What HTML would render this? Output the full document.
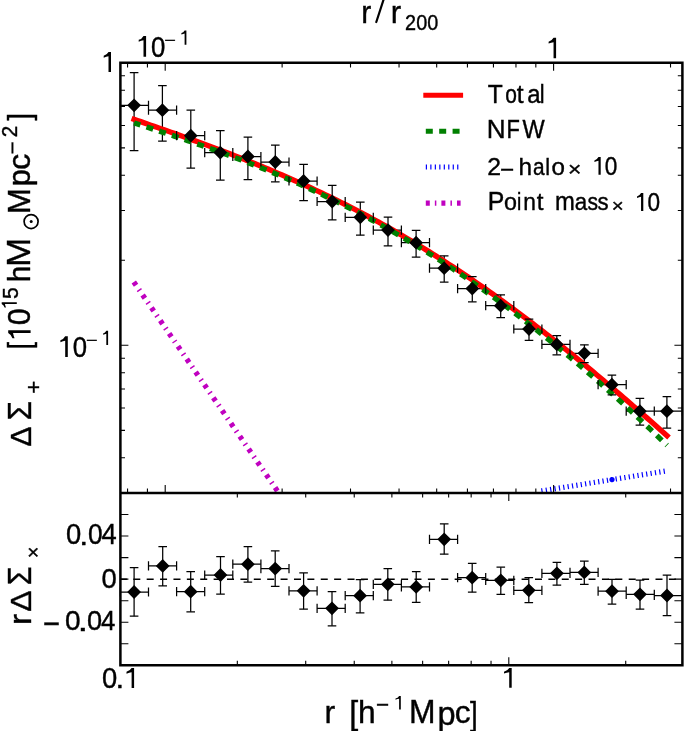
<!DOCTYPE html>
<html><head><meta charset="utf-8"><style>html,body{margin:0;padding:0;background:#fff;}svg{display:block;}</style></head>
<body>
<svg width="685" height="731" viewBox="0 0 685 731" font-family="'Liberation Sans', sans-serif">
<rect width="100%" height="100%" fill="#fff"/>
<g opacity="0.999">
<defs><clipPath id="cp"><rect x="120.4" y="62.8" width="562.0" height="430.2"/></clipPath></defs>
<line x1="119.9" y1="579.15" x2="682.4" y2="579.15" stroke="#000" stroke-width="1.5" stroke-dasharray="7 6.39"/>
<path d="M134.10,72.50V150.50M120.40,105.30H148.50M162.40,85.60V141.00M148.50,110.20H176.60M190.80,110.20V168.10M176.60,135.70H204.70M220.30,130.70V180.10M204.70,152.60H232.80M247.90,137.00V179.70M232.80,156.50H260.90M275.30,145.00V181.80M260.90,162.00H289.00M303.60,164.30V200.70M289.00,181.00H317.10M332.20,185.40V219.90M317.10,201.50H345.20M360.30,202.10V235.20M345.20,217.30H373.30M388.00,217.00V245.90M373.30,230.10H401.40M416.10,230.40V257.10M401.40,242.70H429.50M444.20,255.80V282.00M429.50,268.20H457.60M472.30,276.60V301.80M457.60,288.60H485.70M500.70,294.80V317.60M485.70,305.70H513.80M529.00,319.00V340.40M513.80,329.00H541.90M556.80,335.60V354.80M541.90,344.40H570.00M584.40,344.80V362.70M570.00,353.30H598.10M611.90,375.00V394.90M598.10,384.70H626.20M639.90,398.30V425.00M626.20,411.20H654.30M666.90,396.70V428.10M654.30,411.20H682.40" stroke="#000" stroke-width="1.25" fill="none"/>
<path d="M134.10,567.70V616.20M120.40,592.00H148.50M162.70,546.50V585.90M148.50,565.90H176.60M190.70,571.50V611.80M176.60,591.70H204.70M220.50,556.60V594.00M204.70,575.00H232.80M247.90,546.50V582.00M232.80,564.20H260.90M275.20,550.90V586.40M260.90,568.60H289.00M303.60,572.90V609.20M289.00,590.80H317.10M332.00,591.70V625.80M317.10,608.30H345.20M360.10,579.60V612.90M345.20,595.70H373.30M387.80,568.50V600.20M373.30,584.30H401.40M416.20,571.70V602.30M401.40,586.90H429.50M444.20,523.90V554.20M429.50,539.30H457.60M472.20,563.30V592.20M457.60,577.70H485.70M500.80,567.20V594.30M485.70,580.30H513.80M528.80,577.70V602.70M513.80,590.30H541.90M556.90,562.40V585.20M541.90,573.30H570.00M584.30,561.00V584.30M570.00,572.40H598.10M612.00,579.40V604.00M598.10,591.20H626.20M640.00,580.00V609.20M626.20,594.30H654.30M667.00,575.00V615.70M654.30,595.50H682.40" stroke="#000" stroke-width="1.25" fill="none"/>
<g clip-path="url(#cp)" fill="none">
<polyline points="134.10,119.34 137.45,120.50 140.80,121.67 144.15,122.84 147.51,124.01 150.86,125.18 154.21,126.35 157.56,127.52 160.91,128.69 164.26,129.87 167.62,131.05 170.97,132.23 174.32,133.41 177.67,134.60 181.02,135.79 184.37,136.99 187.73,138.19 191.08,139.40 194.43,140.61 197.78,141.83 201.13,143.05 204.48,144.28 207.83,145.51 211.19,146.75 214.54,148.00 217.89,149.26 221.24,150.52 224.59,151.79 227.94,153.07 231.30,154.35 234.65,155.65 238.00,156.95 241.35,158.26 244.70,159.59 248.05,160.92 251.41,162.26 254.76,163.61 258.11,164.97 261.46,166.34 264.81,167.72 268.16,169.11 271.51,170.52 274.87,171.93 278.22,173.36 281.57,174.79 284.92,176.24 288.27,177.70 291.62,179.18 294.98,180.66 298.33,182.16 301.68,183.67 305.03,185.19 308.38,186.73 311.73,188.28 315.08,189.84 318.44,191.42 321.79,193.00 325.14,194.61 328.49,196.22 331.84,197.86 335.19,199.50 338.55,201.16 341.90,202.83 345.25,204.52 348.60,206.22 351.95,207.94 355.30,209.67 358.66,211.42 362.01,213.18 365.36,214.95 368.71,216.75 372.06,218.55 375.41,220.37 378.76,222.21 382.12,224.06 385.47,225.93 388.82,227.82 392.17,229.72 395.52,231.63 398.87,233.56 402.23,235.51 405.58,237.47 408.93,239.45 412.28,241.44 415.63,243.45 418.98,245.48 422.34,247.52 425.69,249.58 429.04,251.65 432.39,253.74 435.74,255.85 439.09,257.97 442.44,260.11 445.80,262.26 449.15,264.43 452.50,266.62 455.85,268.82 459.20,271.03 462.55,273.27 465.91,275.52 469.26,277.78 472.61,280.06 475.96,282.36 479.31,284.67 482.66,287.00 486.02,289.34 489.37,291.70 492.72,294.07 496.07,296.46 499.42,298.87 502.77,301.29 506.12,303.72 509.48,306.17 512.83,308.63 516.18,311.11 519.53,313.61 522.88,316.12 526.23,318.64 529.59,321.18 532.94,323.73 536.29,326.30 539.64,328.88 542.99,331.47 546.34,334.08 549.69,336.70 553.05,339.33 556.40,341.98 559.75,344.64 563.10,347.32 566.45,350.00 569.80,352.70 573.16,355.42 576.51,358.14 579.86,360.88 583.21,363.63 586.56,366.39 589.91,369.16 593.27,371.95 596.62,374.74 599.97,377.55 603.32,380.36 606.67,383.19 610.02,386.03 613.37,388.88 616.73,391.74 620.08,394.61 623.43,397.48 626.78,400.37 630.13,403.27 633.48,406.17 636.84,409.09 640.19,412.01 643.54,414.94 646.89,417.88 650.24,420.82 653.59,423.78 656.95,426.74 660.30,429.70 663.65,432.68 667.00,435.66" stroke="#ff0000" stroke-width="5.4" stroke-linecap="square" stroke-linejoin="round"/>
<polyline points="134.10,122.99 137.45,124.06 140.80,125.13 144.15,126.21 147.51,127.30 150.86,128.38 154.21,129.47 157.56,130.57 160.91,131.67 164.26,132.77 167.62,133.88 170.97,135.00 174.32,136.12 177.67,137.24 181.02,138.37 184.37,139.51 187.73,140.66 191.08,141.81 194.43,142.97 197.78,144.14 201.13,145.31 204.48,146.49 207.83,147.68 211.19,148.88 214.54,150.09 217.89,151.30 221.24,152.53 224.59,153.76 227.94,155.01 231.30,156.26 234.65,157.52 238.00,158.80 241.35,160.08 244.70,161.37 248.05,162.68 251.41,163.99 254.76,165.32 258.11,166.66 261.46,168.01 264.81,169.37 268.16,170.74 271.51,172.13 274.87,173.52 278.22,174.93 281.57,176.36 284.92,177.79 288.27,179.24 291.62,180.70 294.98,182.18 298.33,183.66 301.68,185.16 305.03,186.68 308.38,188.21 311.73,189.75 315.08,191.31 318.44,192.88 321.79,194.47 325.14,196.07 328.49,197.68 331.84,199.31 335.19,200.96 338.55,202.61 341.90,204.29 345.25,205.98 348.60,207.69 351.95,209.41 355.30,211.14 358.66,212.90 362.01,214.66 365.36,216.45 368.71,218.25 372.06,220.06 375.41,221.90 378.76,223.74 382.12,225.61 385.47,227.49 388.82,229.39 392.17,231.30 395.52,233.23 398.87,235.18 402.23,237.14 405.58,239.12 408.93,241.12 412.28,243.14 415.63,245.17 418.98,247.22 422.34,249.28 425.69,251.36 429.04,253.46 432.39,255.58 435.74,257.71 439.09,259.86 442.44,262.03 445.80,264.21 449.15,266.42 452.50,268.64 455.85,270.87 459.20,273.13 462.55,275.40 465.91,277.68 469.26,279.99 472.61,282.31 475.96,284.65 479.31,287.01 482.66,289.38 486.02,291.77 489.37,294.18 492.72,296.60 496.07,299.05 499.42,301.51 502.77,303.98 506.12,306.48 509.48,308.99 512.83,311.51 516.18,314.06 519.53,316.62 522.88,319.20 526.23,321.79 529.59,324.40 532.94,327.03 536.29,329.68 539.64,332.34 542.99,335.02 546.34,337.71 549.69,340.42 553.05,343.15 556.40,345.89 559.75,348.65 563.10,351.43 566.45,354.22 569.80,357.03 573.16,359.86 576.51,362.70 579.86,365.55 583.21,368.43 586.56,371.32 589.91,374.22 593.27,377.14 596.62,380.08 599.97,383.03 603.32,386.00 606.67,388.98 610.02,391.98 613.37,394.99 616.73,398.02 620.08,401.07 623.43,404.13 626.78,407.21 630.13,410.30 633.48,413.41 636.84,416.53 640.19,419.67 643.54,422.82 646.89,425.99 650.24,429.17 653.59,432.37 656.95,435.58 660.30,438.81 663.65,442.05 667.00,445.31" stroke="#008000" stroke-width="5.3" stroke-dasharray="7 6.39" stroke-dashoffset="0.4"/>
<polyline points="133.80,282.04 300.00,523.81" stroke="#c000c0" stroke-width="5.3" stroke-dasharray="4 5.05 1.5 5.04"/>
<polyline points="539.50,491.23 543.88,490.53 548.26,489.82 552.64,489.12 557.02,488.42 561.40,487.72 565.78,487.02 570.16,486.32 574.53,485.62 578.91,484.92 583.29,484.22 587.67,483.52 592.05,482.82 596.43,482.12 600.81,481.42 605.19,480.71 609.57,480.01 613.95,479.31 618.33,478.61 622.71,477.91 627.09,477.21 631.47,476.51 635.84,475.81 640.22,475.11 644.60,474.41 648.98,473.71 653.36,473.01 657.74,472.31 662.12,471.60 666.50,470.90" stroke="#0000ff" stroke-width="5.2" stroke-dasharray="1.2 3.22" stroke-dashoffset="2.49"/>
<circle cx="612" cy="479.6" r="2.6" fill="#0000ff"/>
</g>
<path d="M129.80,72.50H138.40M129.80,150.50H138.40M120.40,100.70V109.90M148.50,100.70V109.90M158.10,85.60H166.70M158.10,141.00H166.70M148.50,105.60V114.80M176.60,105.60V114.80M186.50,110.20H195.10M186.50,168.10H195.10M176.60,131.10V140.30M204.70,131.10V140.30M216.00,130.70H224.60M216.00,180.10H224.60M204.70,148.00V157.20M232.80,148.00V157.20M243.60,137.00H252.20M243.60,179.70H252.20M232.80,151.90V161.10M260.90,151.90V161.10M271.00,145.00H279.60M271.00,181.80H279.60M260.90,157.40V166.60M289.00,157.40V166.60M299.30,164.30H307.90M299.30,200.70H307.90M289.00,176.40V185.60M317.10,176.40V185.60M327.90,185.40H336.50M327.90,219.90H336.50M317.10,196.90V206.10M345.20,196.90V206.10M356.00,202.10H364.60M356.00,235.20H364.60M345.20,212.70V221.90M373.30,212.70V221.90M383.70,217.00H392.30M383.70,245.90H392.30M373.30,225.50V234.70M401.40,225.50V234.70M411.80,230.40H420.40M411.80,257.10H420.40M401.40,238.10V247.30M429.50,238.10V247.30M439.90,255.80H448.50M439.90,282.00H448.50M429.50,263.60V272.80M457.60,263.60V272.80M468.00,276.60H476.60M468.00,301.80H476.60M457.60,284.00V293.20M485.70,284.00V293.20M496.40,294.80H505.00M496.40,317.60H505.00M485.70,301.10V310.30M513.80,301.10V310.30M524.70,319.00H533.30M524.70,340.40H533.30M513.80,324.40V333.60M541.90,324.40V333.60M552.50,335.60H561.10M552.50,354.80H561.10M541.90,339.80V349.00M570.00,339.80V349.00M580.10,344.80H588.70M580.10,362.70H588.70M570.00,348.70V357.90M598.10,348.70V357.90M607.60,375.00H616.20M607.60,394.90H616.20M598.10,380.10V389.30M626.20,380.10V389.30M635.60,398.30H644.20M635.60,425.00H644.20M626.20,406.60V415.80M654.30,406.60V415.80M662.60,396.70H671.20M662.60,428.10H671.20M654.30,406.60V415.80M682.40,406.60V415.80" stroke="#000" stroke-width="1.25" fill="none"/>
<path d="M134.10,98.40L141.00,105.30L134.10,112.20L127.20,105.30ZM162.40,103.30L169.30,110.20L162.40,117.10L155.50,110.20ZM190.80,128.80L197.70,135.70L190.80,142.60L183.90,135.70ZM220.30,145.70L227.20,152.60L220.30,159.50L213.40,152.60ZM247.90,149.60L254.80,156.50L247.90,163.40L241.00,156.50ZM275.30,155.10L282.20,162.00L275.30,168.90L268.40,162.00ZM303.60,174.10L310.50,181.00L303.60,187.90L296.70,181.00ZM332.20,194.60L339.10,201.50L332.20,208.40L325.30,201.50ZM360.30,210.40L367.20,217.30L360.30,224.20L353.40,217.30ZM388.00,223.20L394.90,230.10L388.00,237.00L381.10,230.10ZM416.10,235.80L423.00,242.70L416.10,249.60L409.20,242.70ZM444.20,261.30L451.10,268.20L444.20,275.10L437.30,268.20ZM472.30,281.70L479.20,288.60L472.30,295.50L465.40,288.60ZM500.70,298.80L507.60,305.70L500.70,312.60L493.80,305.70ZM529.00,322.10L535.90,329.00L529.00,335.90L522.10,329.00ZM556.80,337.50L563.70,344.40L556.80,351.30L549.90,344.40ZM584.40,346.40L591.30,353.30L584.40,360.20L577.50,353.30ZM611.90,377.80L618.80,384.70L611.90,391.60L605.00,384.70ZM639.90,404.30L646.80,411.20L639.90,418.10L633.00,411.20ZM666.90,404.30L673.80,411.20L666.90,418.10L660.00,411.20Z" fill="#000"/>
<path d="M129.80,567.70H138.40M129.80,616.20H138.40M120.40,587.40V596.60M148.50,587.40V596.60M158.40,546.50H167.00M158.40,585.90H167.00M148.50,561.30V570.50M176.60,561.30V570.50M186.40,571.50H195.00M186.40,611.80H195.00M176.60,587.10V596.30M204.70,587.10V596.30M216.20,556.60H224.80M216.20,594.00H224.80M204.70,570.40V579.60M232.80,570.40V579.60M243.60,546.50H252.20M243.60,582.00H252.20M232.80,559.60V568.80M260.90,559.60V568.80M270.90,550.90H279.50M270.90,586.40H279.50M260.90,564.00V573.20M289.00,564.00V573.20M299.30,572.90H307.90M299.30,609.20H307.90M289.00,586.20V595.40M317.10,586.20V595.40M327.70,591.70H336.30M327.70,625.80H336.30M317.10,603.70V612.90M345.20,603.70V612.90M355.80,579.60H364.40M355.80,612.90H364.40M345.20,591.10V600.30M373.30,591.10V600.30M383.50,568.50H392.10M383.50,600.20H392.10M373.30,579.70V588.90M401.40,579.70V588.90M411.90,571.70H420.50M411.90,602.30H420.50M401.40,582.30V591.50M429.50,582.30V591.50M439.90,523.90H448.50M439.90,554.20H448.50M429.50,534.70V543.90M457.60,534.70V543.90M467.90,563.30H476.50M467.90,592.20H476.50M457.60,573.10V582.30M485.70,573.10V582.30M496.50,567.20H505.10M496.50,594.30H505.10M485.70,575.70V584.90M513.80,575.70V584.90M524.50,577.70H533.10M524.50,602.70H533.10M513.80,585.70V594.90M541.90,585.70V594.90M552.60,562.40H561.20M552.60,585.20H561.20M541.90,568.70V577.90M570.00,568.70V577.90M580.00,561.00H588.60M580.00,584.30H588.60M570.00,567.80V577.00M598.10,567.80V577.00M607.70,579.40H616.30M607.70,604.00H616.30M598.10,586.60V595.80M626.20,586.60V595.80M635.70,580.00H644.30M635.70,609.20H644.30M626.20,589.70V598.90M654.30,589.70V598.90M662.70,575.00H671.30M662.70,615.70H671.30M654.30,590.90V600.10M682.40,590.90V600.10" stroke="#000" stroke-width="1.25" fill="none"/>
<path d="M134.10,585.10L141.00,592.00L134.10,598.90L127.20,592.00ZM162.70,559.00L169.60,565.90L162.70,572.80L155.80,565.90ZM190.70,584.80L197.60,591.70L190.70,598.60L183.80,591.70ZM220.50,568.10L227.40,575.00L220.50,581.90L213.60,575.00ZM247.90,557.30L254.80,564.20L247.90,571.10L241.00,564.20ZM275.20,561.70L282.10,568.60L275.20,575.50L268.30,568.60ZM303.60,583.90L310.50,590.80L303.60,597.70L296.70,590.80ZM332.00,601.40L338.90,608.30L332.00,615.20L325.10,608.30ZM360.10,588.80L367.00,595.70L360.10,602.60L353.20,595.70ZM387.80,577.40L394.70,584.30L387.80,591.20L380.90,584.30ZM416.20,580.00L423.10,586.90L416.20,593.80L409.30,586.90ZM444.20,532.40L451.10,539.30L444.20,546.20L437.30,539.30ZM472.20,570.80L479.10,577.70L472.20,584.60L465.30,577.70ZM500.80,573.40L507.70,580.30L500.80,587.20L493.90,580.30ZM528.80,583.40L535.70,590.30L528.80,597.20L521.90,590.30ZM556.90,566.40L563.80,573.30L556.90,580.20L550.00,573.30ZM584.30,565.50L591.20,572.40L584.30,579.30L577.40,572.40ZM612.00,584.30L618.90,591.20L612.00,598.10L605.10,591.20ZM640.00,587.40L646.90,594.30L640.00,601.20L633.10,594.30ZM667.00,588.60L673.90,595.50L667.00,602.40L660.10,595.50Z" fill="#000"/>
<path d="M127.56,62.80v4.60M127.56,493.00v-4.60M147.43,62.80v4.60M147.43,493.00v-4.60M165.20,62.80v8.00M165.20,493.00v-8.00M282.12,62.80v4.60M282.12,493.00v-4.60M350.51,62.80v4.60M350.51,493.00v-4.60M399.04,62.80v4.60M399.04,493.00v-4.60M436.68,62.80v4.60M436.68,493.00v-4.60M467.43,62.80v4.60M467.43,493.00v-4.60M493.44,62.80v4.60M493.44,493.00v-4.60M515.96,62.80v4.60M515.96,493.00v-4.60M535.83,62.80v4.60M535.83,493.00v-4.60M553.60,62.80v8.00M553.60,493.00v-8.00M670.52,62.80v4.60M670.52,493.00v-4.60M237.32,493.00v4.60M237.32,665.30v-4.60M305.71,493.00v4.60M305.71,665.30v-4.60M354.24,493.00v4.60M354.24,665.30v-4.60M391.88,493.00v4.60M391.88,665.30v-4.60M422.63,493.00v4.60M422.63,665.30v-4.60M448.64,493.00v4.60M448.64,665.30v-4.60M471.16,493.00v4.60M471.16,665.30v-4.60M491.03,493.00v4.60M491.03,665.30v-4.60M508.80,493.00v8.00M508.80,665.30v-8.00M625.72,493.00v4.60M625.72,665.30v-4.60M120.40,260.26h4.60M682.40,260.26h-4.60M120.40,210.51h4.60M682.40,210.51h-4.60M120.40,175.22h4.60M682.40,175.22h-4.60M120.40,147.84h4.60M682.40,147.84h-4.60M120.40,125.47h4.60M682.40,125.47h-4.60M120.40,106.56h4.60M682.40,106.56h-4.60M120.40,90.18h4.60M682.40,90.18h-4.60M120.40,75.73h4.60M682.40,75.73h-4.60M120.40,345.30h8.00M682.40,345.30h-8.00M120.40,457.72h4.60M682.40,457.72h-4.60M120.40,430.34h4.60M682.40,430.34h-4.60M120.40,407.97h4.60M682.40,407.97h-4.60M120.40,389.06h4.60M682.40,389.06h-4.60M120.40,372.68h4.60M682.40,372.68h-4.60M120.40,358.23h4.60M682.40,358.23h-4.60M120.40,643.76h8.00M682.40,643.76h-8.00M120.40,622.23h8.00M682.40,622.23h-8.00M120.40,600.69h8.00M682.40,600.69h-8.00M120.40,579.15h8.00M682.40,579.15h-8.00M120.40,557.61h8.00M682.40,557.61h-8.00M120.40,536.07h8.00M682.40,536.07h-8.00M120.40,514.54h8.00M682.40,514.54h-8.00" stroke="#000" stroke-width="1.1" fill="none"/>
<path d="M120.4,62.8H682.4V665.3H120.4ZM120.4,493.0H682.4" stroke="#000" stroke-width="2.5" fill="none" stroke-linecap="square"/>
<line x1="425.8" y1="95.2" x2="460.6" y2="95.2" stroke="#ff0000" stroke-width="5" stroke-linecap="square"/>
<line x1="425.8" y1="131.3" x2="460.6" y2="131.3" stroke="#008000" stroke-width="5" stroke-dasharray="7 6.39"/>
<line x1="425.8" y1="167.1" x2="460.6" y2="167.1" stroke="#0000ff" stroke-width="5" stroke-dasharray="1.2 3.28"/>
<line x1="425.8" y1="203.1" x2="460.6" y2="203.1" stroke="#c000c0" stroke-width="5.3" stroke-dasharray="4 5.05 1.5 5.04"/>
<text transform="matrix(0.24558 0 0 0.26453 487.66 102.67)" font-size="100" fill="#000" stroke="#000" stroke-width="1.57">T</text>
<text transform="matrix(0.20975 0 0 0.25182 505.32 102.72)" font-size="100" fill="#000" stroke="#000" stroke-width="1.73">o</text>
<text transform="matrix(0.24609 0 0 0.25076 516.63 102.67)" font-size="100" fill="#000" stroke="#000" stroke-width="1.61">t</text>
<text transform="matrix(0.23930 0 0 0.25182 527.29 102.72)" font-size="100" fill="#000" stroke="#000" stroke-width="1.63">a</text>
<text transform="matrix(0.21591 0 0 0.24966 539.75 102.68)" font-size="100" fill="#000" stroke="#000" stroke-width="1.72">l</text>
<text transform="matrix(0.26118 0 0 0.26017 486.86 138.37)" font-size="100" fill="#000" stroke="#000" stroke-width="1.53">N</text>
<text transform="matrix(0.21881 0 0 0.26017 506.51 138.37)" font-size="100" fill="#000" stroke="#000" stroke-width="1.67">F</text>
<text transform="matrix(0.23529 0 0 0.26017 522.58 138.37)" font-size="100" fill="#000" stroke="#000" stroke-width="1.61">W</text>
<text transform="matrix(0.24781 0 0 0.24499 487.16 174.78)" font-size="100" fill="#000" stroke="#000" stroke-width="1.62">2</text>
<text transform="matrix(0.24280 0 0 0.22535 500.11 176.87)" font-size="100" fill="#000" stroke="#000" stroke-width="1.71">−</text>
<text transform="matrix(0.24408 0 0 0.24276 518.42 174.68)" font-size="100" fill="#000" stroke="#000" stroke-width="1.64">h</text>
<text transform="matrix(0.20817 0 0 0.24453 533.03 174.73)" font-size="100" fill="#000" stroke="#000" stroke-width="1.77">a</text>
<text transform="matrix(0.21591 0 0 0.24276 545.15 174.68)" font-size="100" fill="#000" stroke="#000" stroke-width="1.74">l</text>
<text transform="matrix(0.24153 0 0 0.24635 551.49 174.83)" font-size="100" fill="#000" stroke="#000" stroke-width="1.64">o</text>
<text transform="matrix(0.22921 0 0 0.20449 568.10 176.13)" font-size="100" fill="#000" stroke="#000" stroke-width="1.84">×</text>
<path d="M598.48,157.00H600.70V174.80H598.48V160.83Q596.64,161.18 594.40,162.07V160.38Q597.05,159.67 598.48,157.00Z" fill="#000"/>
<text transform="matrix(0.22594 0 0 0.25706 604.82 174.92)" font-size="100" fill="#000" stroke="#000" stroke-width="1.66">0</text>
<text transform="matrix(0.24812 0 0 0.25581 487.67 210.17)" font-size="100" fill="#000" stroke="#000" stroke-width="1.59">P</text>
<text transform="matrix(0.23305 0 0 0.24270 504.02 210.23)" font-size="100" fill="#000" stroke="#000" stroke-width="1.68">o</text>
<text transform="matrix(0.19318 0 0 0.24276 517.11 210.18)" font-size="100" fill="#000" stroke="#000" stroke-width="1.84">i</text>
<text transform="matrix(0.22824 0 0 0.24164 523.19 210.18)" font-size="100" fill="#000" stroke="#000" stroke-width="1.70">n</text>
<text transform="matrix(0.24219 0 0 0.23853 536.64 210.19)" font-size="100" fill="#000" stroke="#000" stroke-width="1.66">t</text>
<text transform="matrix(0.23823 0 0 0.25093 555.03 210.27)" font-size="100" fill="#000" stroke="#000" stroke-width="1.64">m</text>
<text transform="matrix(0.22374 0 0 0.24635 574.86 210.23)" font-size="100" fill="#000" stroke="#000" stroke-width="1.70">a</text>
<text transform="matrix(0.21101 0 0 0.24680 587.51 210.23)" font-size="100" fill="#000" stroke="#000" stroke-width="1.75">s</text>
<text transform="matrix(0.22248 0 0 0.24680 597.58 210.23)" font-size="100" fill="#000" stroke="#000" stroke-width="1.70">s</text>
<text transform="matrix(0.20449 0 0 0.19101 611.77 212.18)" font-size="100" fill="#000" stroke="#000" stroke-width="2.02">×</text>
<path d="M641.06,193.00H643.30V210.90H641.06V196.85Q639.23,197.21 637.00,198.10V196.40Q639.64,195.69 641.06,193.00Z" fill="#000"/>
<text transform="matrix(0.22594 0 0 0.25706 647.42 210.92)" font-size="100" fill="#000" stroke="#000" stroke-width="1.66">0</text>
<path d="M108.50,52.00H111.00V72.00H108.50V56.30Q106.34,56.70 103.70,57.70V55.80Q106.82,55.00 108.50,52.00Z" fill="#000"/>
<path d="M65.20,336.20H67.80V357.00H65.20V340.67Q63.04,341.09 60.40,342.13V340.15Q63.52,339.32 65.20,336.20Z" fill="#000"/>
<text transform="matrix(0.25732 0 0 0.29379 72.70 357.08)" font-size="100" fill="#000" stroke="#000" stroke-width="1.45">0</text>
<text transform="matrix(0.19753 0 0 0.14085 85.73 345.27)" font-size="100" fill="#000" stroke="#000" stroke-width="2.36">−</text>
<path d="M106.31,330.70H108.10V345.00H106.31V333.77Q104.87,334.06 103.10,334.78V333.42Q105.19,332.84 106.31,330.70Z" fill="#000"/>
<path d="M143.50,35.90H146.10V56.70H143.50V40.37Q141.34,40.79 138.70,41.83V39.85Q141.82,39.02 143.50,35.90Z" fill="#000"/>
<text transform="matrix(0.25732 0 0 0.29379 151.00 56.78)" font-size="100" fill="#000" stroke="#000" stroke-width="1.45">0</text>
<text transform="matrix(0.19753 0 0 0.14085 164.03 44.97)" font-size="100" fill="#000" stroke="#000" stroke-width="2.36">−</text>
<path d="M184.61,30.40H186.40V44.70H184.61V33.47Q183.17,33.76 181.40,34.48V33.12Q183.49,32.54 184.61,30.40Z" fill="#000"/>
<path d="M553.55,37.80H556.10V58.20H553.55V42.19Q551.32,42.59 548.60,43.61V41.68Q551.82,40.86 553.55,37.80Z" fill="#000"/>
<text transform="matrix(0.27406 0 0 0.29237 102.03 688.28)" font-size="100" fill="#000" stroke="#000" stroke-width="1.41">0</text>
<text transform="matrix(0.31250 0 0 0.27103 115.56 688.37)" font-size="100" fill="#000" stroke="#000" stroke-width="1.37">.</text>
<path d="M131.61,668.00H134.10V687.90H131.61V672.28Q129.31,672.68 126.50,673.67V671.78Q129.82,670.99 131.61,668.00Z" fill="#000"/>
<path d="M509.21,667.90H511.70V687.80H509.21V672.18Q506.87,672.58 504.00,673.57V671.68Q507.39,670.88 509.21,667.90Z" fill="#000"/>
<text transform="matrix(0.27406 0 0 0.29237 65.93 544.48)" font-size="100" fill="#000" stroke="#000" stroke-width="1.41">0</text>
<text transform="matrix(0.32292 0 0 0.27103 79.16 544.77)" font-size="100" fill="#000" stroke="#000" stroke-width="1.35">.</text>
<text transform="matrix(0.26360 0 0 0.29237 88.07 544.48)" font-size="100" fill="#000" stroke="#000" stroke-width="1.44">0</text>
<text transform="matrix(0.27381 0 0 0.28779 101.47 544.37)" font-size="100" fill="#000" stroke="#000" stroke-width="1.42">4</text>
<text transform="matrix(0.28033 0 0 0.27825 65.01 630.39)" font-size="100" fill="#000" stroke="#000" stroke-width="1.43">0</text>
<text transform="matrix(0.38542 0 0 0.27103 77.59 630.67)" font-size="100" fill="#000" stroke="#000" stroke-width="1.22">.</text>
<text transform="matrix(0.27197 0 0 0.27825 87.04 630.39)" font-size="100" fill="#000" stroke="#000" stroke-width="1.45">0</text>
<text transform="matrix(0.25794 0 0 0.27326 100.91 630.27)" font-size="100" fill="#000" stroke="#000" stroke-width="1.51">4</text>
<text transform="matrix(0.29218 0 0 0.30986 42.87 634.17)" font-size="100" fill="#000" stroke="#000" stroke-width="1.33">−</text>
<text transform="matrix(0.27406 0 0 0.28531 101.53 587.69)" font-size="100" fill="#000" stroke="#000" stroke-width="1.43">0</text>
<text transform="matrix(0.30000 0 0 0.31970 361.22 22.77)" font-size="100" fill="#000" stroke="#000" stroke-width="1.29">r</text>
<line x1="376.3" y1="22.0" x2="384.1" y2="-2" stroke="#000" stroke-width="2.2" stroke-linecap="round"/>
<text transform="matrix(0.31200 0 0 0.31970 390.84 22.77)" font-size="100" fill="#000" stroke="#000" stroke-width="1.27">r</text>
<text transform="matrix(0.19823 0 0 0.22740 405.11 30.45)" font-size="100" fill="#000" stroke="#000" stroke-width="1.88">200</text>
<text transform="matrix(0.32000 0 0 0.32156 324.39 723.27)" font-size="100" fill="#000" stroke="#000" stroke-width="1.25">r</text>
<text transform="matrix(0.32161 0 0 0.32797 349.22 724.45)" font-size="100" fill="#000" stroke="#000" stroke-width="1.23">[</text>
<text transform="matrix(0.31754 0 0 0.31586 358.11 723.27)" font-size="100" fill="#000" stroke="#000" stroke-width="1.26">h</text>
<text transform="matrix(0.22428 0 0 0.21127 375.90 712.15)" font-size="100" fill="#000" stroke="#000" stroke-width="1.84">−</text>
<path d="M399.11,695.90H400.80V709.40H399.11V698.80Q397.49,699.07 395.50,699.75V698.47Q397.85,697.92 399.11,695.90Z" fill="#000"/>
<text transform="matrix(0.31839 0 0 0.32703 409.09 723.27)" font-size="100" fill="#000" stroke="#000" stroke-width="1.24">M</text>
<text transform="matrix(0.32517 0 0 0.33110 437.49 724.68)" font-size="100" fill="#000" stroke="#000" stroke-width="1.22">p</text>
<text transform="matrix(0.31713 0 0 0.30657 454.77 723.36)" font-size="100" fill="#000" stroke="#000" stroke-width="1.28">c</text>
<text transform="matrix(0.27638 0 0 0.32690 469.98 724.77)" font-size="100" fill="#000" stroke="#000" stroke-width="1.33">]</text>
<text transform="matrix(0 -0.30263 0.29070 0 30.67 446.71)" font-size="100" fill="#000" stroke="#000" stroke-width="1.35">Δ</text>
<text transform="matrix(0 -0.31749 0.33430 0 30.67 420.48)" font-size="100" fill="#000" stroke="#000" stroke-width="1.23">Σ</text>
<text transform="matrix(0 -0.22222 0.21677 0 40.59 393.79)" font-size="100" fill="#000" stroke="#000" stroke-width="1.82">+</text>
<text transform="matrix(0 -0.25126 0.31404 0 30.44 348.98)" font-size="100" fill="#000" stroke="#000" stroke-width="1.42">[</text>
<path transform="matrix(0 -1 1 0 0 0)" d="M-333.00,8.20H-330.20V30.60H-333.00V13.02Q-335.38,13.46 -338.30,14.58V12.46Q-334.86,11.56 -333.00,8.20Z" fill="#000"/>
<text transform="matrix(0 -0.30544 0.31215 0 30.16 325.19)" font-size="100" fill="#000" stroke="#000" stroke-width="1.30">0</text>
<path transform="matrix(0 -1 1 0 0 0)" d="M-304.09,1.70H-302.20V16.80H-304.09V4.95Q-305.67,5.25 -307.60,6.00V4.57Q-305.32,3.96 -304.09,1.70Z" fill="#000"/>
<text transform="matrix(0 -0.21097 0.22923 0 17.65 299.04)" font-size="100" fill="#000" stroke="#000" stroke-width="1.82">5</text>
<text transform="matrix(0 -0.29858 0.31448 0 30.47 282.36)" font-size="100" fill="#000" stroke="#000" stroke-width="1.30">h</text>
<text transform="matrix(0 -0.35127 0.33140 0 30.47 266.98)" font-size="100" fill="#000" stroke="#000" stroke-width="1.17">M</text>
<circle cx="31.1" cy="221.55" r="7.0" fill="none" stroke="#000" stroke-width="1.7"/><circle cx="31.2" cy="221.6" r="1.5" fill="#000"/>
<text transform="matrix(0 -0.31091 0.31541 0 29.87 214.05)" font-size="100" fill="#000" stroke="#000" stroke-width="1.28">M</text>
<text transform="matrix(0 -0.30735 0.30831 0 30.26 186.20)" font-size="100" fill="#000" stroke="#000" stroke-width="1.30">p</text>
<text transform="matrix(0 -0.32639 0.30657 0 30.16 169.97)" font-size="100" fill="#000" stroke="#000" stroke-width="1.26">c</text>
<text transform="matrix(0 -0.22634 0.19718 0 18.54 154.51)" font-size="100" fill="#000" stroke="#000" stroke-width="1.89">−</text>
<text transform="matrix(0 -0.20614 0.22063 0 16.78 137.23)" font-size="100" fill="#000" stroke="#000" stroke-width="1.87">2</text>
<text transform="matrix(0 -0.27136 0.31190 0 30.38 120.52)" font-size="100" fill="#000" stroke="#000" stroke-width="1.37">]</text>
<text transform="matrix(0 -0.33200 0.31227 0 30.87 624.99)" font-size="100" fill="#000" stroke="#000" stroke-width="1.24">r</text>
<text transform="matrix(0 -0.31743 0.29070 0 30.87 611.75)" font-size="100" fill="#000" stroke="#000" stroke-width="1.32">Δ</text>
<text transform="matrix(0 -0.30418 0.33866 0 30.87 585.31)" font-size="100" fill="#000" stroke="#000" stroke-width="1.24">Σ</text>
<text transform="matrix(0 -0.19326 0.20000 0 39.98 558.05)" font-size="100" fill="#000" stroke="#000" stroke-width="2.03">×</text>
</g>
</svg>
</body></html>
